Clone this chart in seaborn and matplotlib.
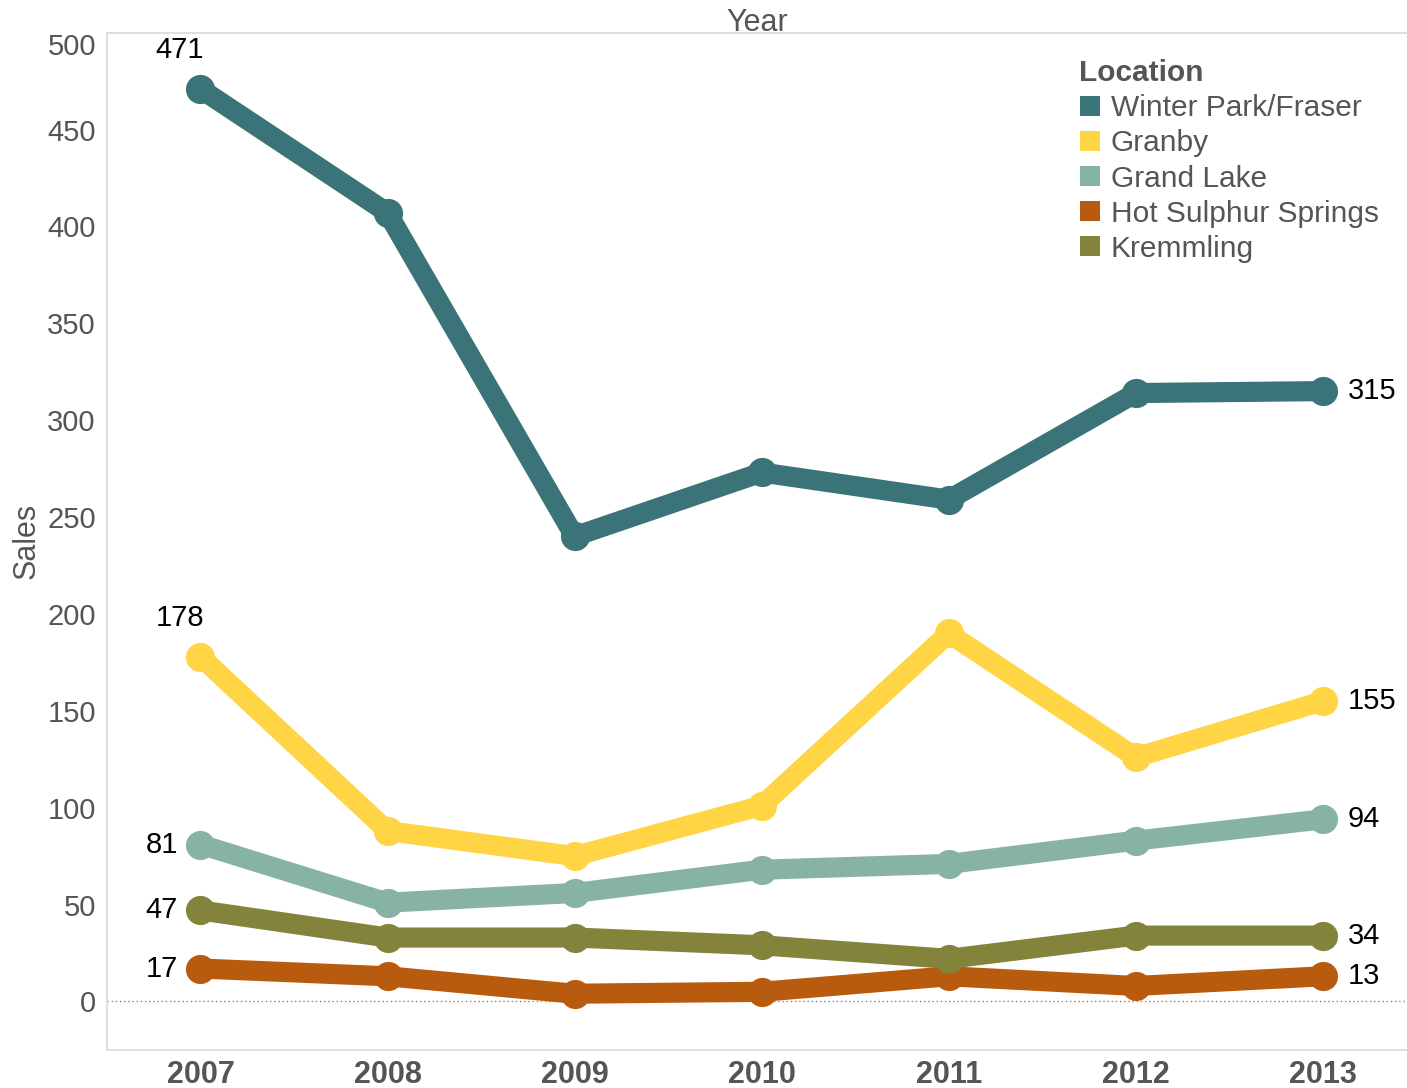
import numpy as np
import pandas as pd
import matplotlib
matplotlib.use("Agg")
import matplotlib.pyplot as plt
from matplotlib.lines import Line2D
import seaborn as sns

years = [2007, 2008, 2009, 2010, 2011, 2012, 2013]
locations = ["Winter Park/Fraser", "Granby", "Grand Lake", "Hot Sulphur Springs", "Kremmling"]
winter_park = [471, 407, 240, 273, 259, 314, 315]
granby = [178, 88, 75, 101, 190, 126, 155]
grand_lake = [81, 51, 56, 68, 71, 83, 94]
hot_sulphur = [17, 13, 4, 5, 13, 8, 13]
kremmling = [47, 33, 33, 29, 22, 34, 34]
colors = ["#3a7378", "#ffd546", "#87b3a6", "#b95b0e", "#83833b"]

series = [winter_park, granby, grand_lake, hot_sulphur, kremmling]
df = pd.DataFrame({
    "Year": np.tile(np.arange(len(years)), len(locations)),
    "Sales": np.concatenate(series),
    "Location": np.repeat(locations, len(years)),
})

sns.set_style("white")
plt.rcParams["font.family"] = ["Liberation Sans", "DejaVu Sans"]

fig = plt.figure(figsize=(14.07, 10.88), dpi=100)
ax = fig.add_axes([0.076, 0.035, 0.924, 0.935])

sns.lineplot(data=df, x="Year", y="Sales", hue="Location", hue_order=locations,
             palette=colors, linewidth=14.5, marker="o", markersize=21,
             markeredgewidth=0, legend=False, ax=ax, sort=False)
for ln in ax.lines:
    ln.set_solid_capstyle("round")
    ln.set_solid_joinstyle("round")

# reference line at zero
ax.axhline(0, color="#888888", lw=1, ls=(0, (1, 2)), zorder=0)

# data labels: first and last year
above = ["Winter Park/Fraser", "Granby"]
for loc, vals in zip(locations, series):
    if loc in above:
        ax.annotate(str(vals[0]), (0, vals[0]), xytext=(-15, 18), textcoords="offset points",
                    ha="center", va="bottom", fontsize=21, color="black")
    else:
        ax.annotate(str(vals[0]), (0, vals[0]), xytext=(-16, 0), textcoords="offset points",
                    ha="right", va="center", fontsize=21, color="black")
    ax.annotate(str(vals[-1]), (len(years) - 1, vals[-1]), xytext=(18, 0), textcoords="offset points",
                ha="left", va="center", fontsize=21, color="black")

ax.set_xlim(-0.5, 6.45)
ax.set_ylim(-25, 500)
ax.set_yticks(np.arange(0, 501, 50))
ax.set_xticks(np.arange(len(years)))
ax.set_xticklabels([str(y) for y in years], fontsize=22, fontweight="bold", color="#555555")
ax.set_xticks(np.arange(-0.5, 6.5, 1), minor=True)
ax.tick_params(axis="x", which="major", length=0, pad=7)
ax.tick_params(axis="x", which="minor", length=6, color="#d0d0d0", width=1)
ax.tick_params(axis="y", length=6, color="#d0d0d0", width=1, labelsize=21, labelcolor="#555555", pad=2)
ax.set_yticklabels([str(int(t)) for t in np.arange(0, 501, 50)])
ax.get_yticklabels()[-1].set_verticalalignment("top")

ax.set_ylabel("Sales", fontsize=22, color="#555555", labelpad=4)
ax.set_xlabel("Year", fontsize=22, color="#555555", labelpad=1)
ax.xaxis.set_label_position("top")

for side in ["left", "bottom", "top"]:
    ax.spines[side].set_color("#d9d9d9")
    ax.spines[side].set_linewidth(1.2)
ax.spines["right"].set_visible(False)

handles = [Line2D([0], [0], marker="s", color="none", markerfacecolor=c, markeredgewidth=0,
                  markersize=15) for c in colors]
leg = ax.legend(handles, locations, title="Location", loc="upper left",
                bbox_to_anchor=(0.748, 0.974), frameon=False, fontsize=21.5,
                handlelength=0.7, handletextpad=0.35, labelspacing=0.24,
                borderaxespad=0, borderpad=0)
leg.get_title().set_fontweight("bold")
leg.get_title().set_fontsize(21.5)
leg.get_title().set_color("#555555")
leg._legend_box.align = "left"
for t in leg.get_texts():
    t.set_color("#555555")

fig.savefig("out.png", dpi=100)
